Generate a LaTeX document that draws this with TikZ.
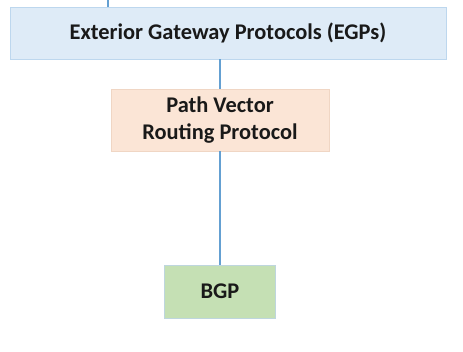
\documentclass[tikz,border=0pt]{standalone}
\usepackage{fontspec}
\setmainfont{Carlito}
\usepackage{tikz}

\definecolor{egpfill}{RGB}{222,235,247}
\definecolor{egpline}{RGB}{189,215,238}
\definecolor{pvfill}{RGB}{251,229,214}
\definecolor{pvline}{RGB}{240,214,196}
\definecolor{bgpfill}{RGB}{197,224,180}
\definecolor{bgpline}{RGB}{190,214,222}
\definecolor{linkblue}{RGB}{100,160,210}

\tikzset{
  box/.style={draw, line width=0.8pt, inner sep=0pt, align=center, text=black!90,
    font=\bfseries\fontsize{22.4}{27}\selectfont},
  link/.style={draw=linkblue, line width=1.5pt}
}

\begin{document}
\begin{tikzpicture}[x=1pt,y=1pt]
            \useasboundingbox (0,0) rectangle (463,352);
            \node[box, fill=egpfill, draw=egpline, minimum width=436pt, minimum height=52pt] (egp) at (228,319) {Exterior Gateway Protocols (EGPs)};
            \node[box, fill=pvfill, draw=pvline, minimum width=218pt, minimum height=62pt] (pv) at (220,232) {Path Vector\\Routing Protocol};
            \node[box, fill=bgpfill, draw=bgpline, minimum width=111pt, minimum height=53pt] (bgp) at (220,60.5) {BGP};
            
            \coordinate (up) at (108,352);
            \draw[link] (up) -- (up |- egp.north);
            \draw[link] (pv.north |- egp.south) -- (pv.north);
            \draw[link] (pv.south) -- (bgp.north);
         \end{tikzpicture}
\end{document}
